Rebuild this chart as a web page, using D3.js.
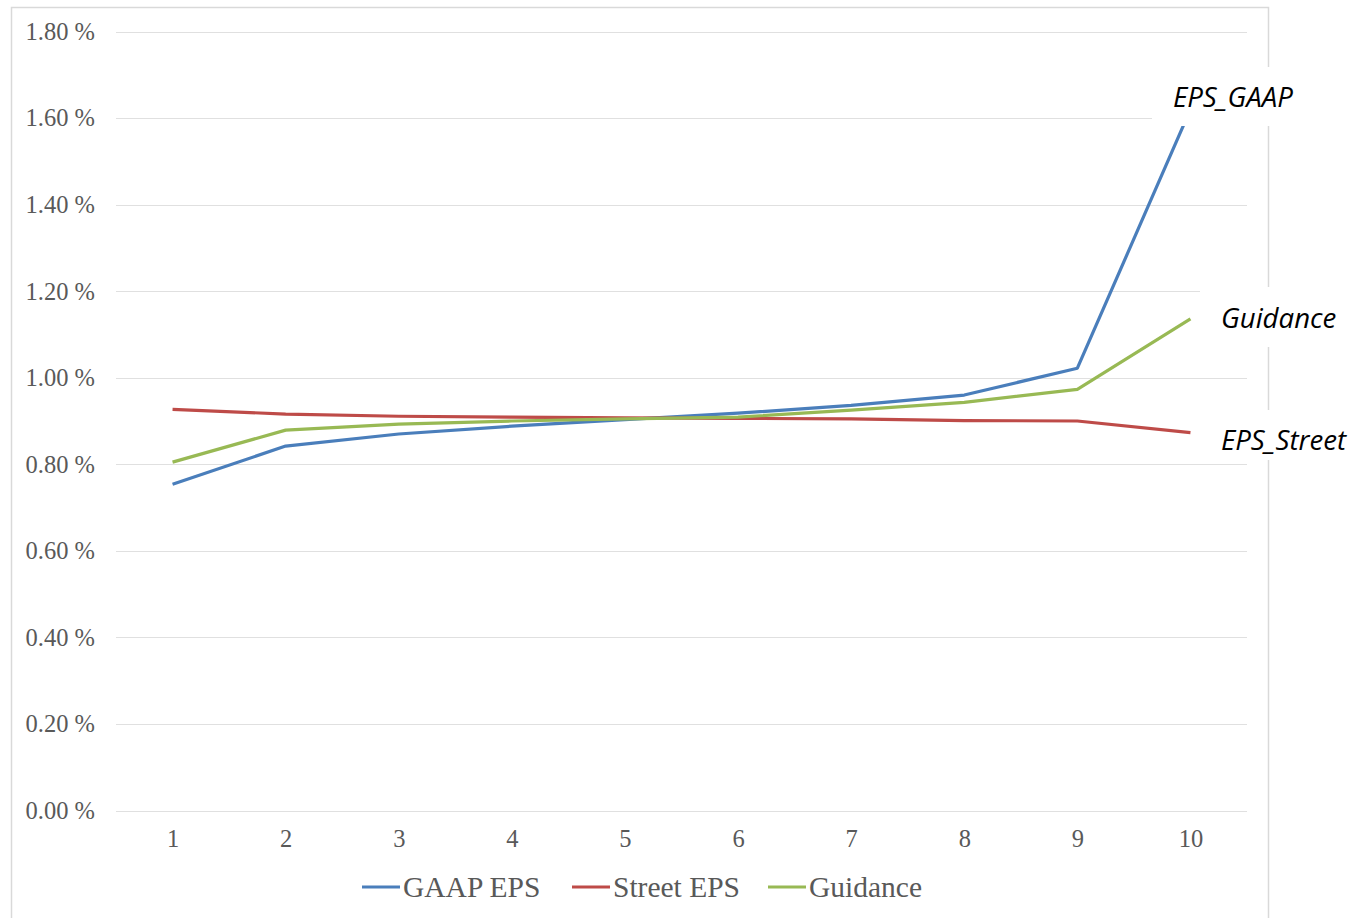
<!DOCTYPE html>
<html>
<head>
<meta charset="utf-8">
<script src="https://cdn.jsdelivr.net/npm/d3@7"></script>
<style>
  html, body { margin: 0; padding: 0; background: #ffffff; }
  svg { display: block; }
</style>
</head>
<body>
<svg id="chart" width="1359" height="918"></svg>
<script>
// ---- data ----
const categories = [1, 2, 3, 4, 5, 6, 7, 8, 9, 10];
const gaapEPS   = [0.754, 0.842, 0.870, 0.888, 0.903, 0.918, 0.936, 0.960, 1.022, 1.620];
const streetEPS = [0.927, 0.916, 0.911, 0.909, 0.907, 0.906, 0.905, 0.901, 0.900, 0.873];
const guidance  = [0.805, 0.879, 0.893, 0.900, 0.905, 0.909, 0.925, 0.943, 0.973, 1.136];
const yTicks = [0, 0.2, 0.4, 0.6, 0.8, 1.0, 1.2, 1.4, 1.6, 1.8];
const seriesNames = ["GAAP EPS", "Street EPS", "Guidance"];
const endLabels = ["EPS_GAAP", "EPS_Street", "Guidance"];

const colors = { "GAAP EPS": "#4a7ebb", "Street EPS": "#be4b48", "Guidance": "#98b954" };
const series = [
  { name: "GAAP EPS", values: gaapEPS },
  { name: "Street EPS", values: streetEPS },
  { name: "Guidance", values: guidance }
];

const svg = d3.select("#chart");
const plotL = 116, plotR = 1247, plotT = 31.5, plotB = 810.5;

// frame
svg.append("rect")
  .attr("x", 11.5).attr("y", 7.5)
  .attr("width", 1257).attr("height", 940)
  .attr("fill", "#ffffff").attr("stroke", "#d9d9d9").attr("stroke-width", 1.5);

const x = d3.scalePoint().domain(categories).range([plotL, plotR]).padding(0.5);
const y = d3.scaleLinear().domain([0, 1.8]).range([plotB, plotT]);

// gridlines
svg.append("g").selectAll("line").data(yTicks).join("line")
  .attr("x1", plotL).attr("x2", plotR)
  .attr("y1", d => Math.round(y(d)) + 0.5).attr("y2", d => Math.round(y(d)) + 0.5)
  .attr("stroke", "#e0e0e0").attr("stroke-width", 1);

// y axis
const yAxis = svg.append("g").attr("transform", `translate(${plotL},0)`)
  .call(d3.axisLeft(y).tickValues(yTicks).tickSize(0).tickPadding(21)
    .tickFormat(d => d.toFixed(2) + " %"));
yAxis.select(".domain").remove();
yAxis.selectAll("text")
  .attr("font-family", "'Liberation Serif', 'Times New Roman', serif")
  .attr("font-size", 24.5).attr("fill", "#595959");

// x axis
const xAxis = svg.append("g").attr("transform", `translate(0,${plotB})`)
  .call(d3.axisBottom(x).tickSize(0).tickPadding(19));
xAxis.select(".domain").remove();
xAxis.selectAll("text")
  .attr("font-family", "'Liberation Serif', 'Times New Roman', serif")
  .attr("font-size", 24.5).attr("fill", "#595959");

// lines
const line = d3.line().x((d, i) => x(categories[i])).y(d => y(d));
svg.append("g").selectAll("path").data(series).join("path")
  .attr("d", d => line(d.values))
  .attr("fill", "none")
  .attr("stroke", d => colors[d.name])
  .attr("stroke-width", 3.2)
  .attr("stroke-linejoin", "round");

// end labels with white boxes
const labelSpecs = [
  { text: endLabels[0], bx: 1152, by: 67, bw: 175, bh: 59, tx: 1173, ty: 97 },
  { text: endLabels[2], bx: 1200, by: 287, bw: 155, bh: 60, tx: 1221, ty: 318 },
  { text: endLabels[1], bx: 1212, by: 410, bw: 147, bh: 50, tx: 1221, ty: 440 }
];
const lg = svg.append("g");
lg.selectAll("rect").data(labelSpecs).join("rect")
  .attr("x", d => d.bx).attr("y", d => d.by)
  .attr("width", d => d.bw).attr("height", d => d.bh)
  .attr("fill", "#ffffff");
lg.selectAll("text").data(labelSpecs).join("text")
  .attr("x", d => d.tx).attr("y", d => d.ty)
  .attr("dy", "0.35em")
  .attr("font-family", "'Open Sans', 'Noto Sans', sans-serif")
  .attr("font-style", "italic")
  .attr("font-size", 27.6)
  .attr("fill", "#000000")
  .text(d => d.text);

// legend
const legendItems = [
  { name: seriesNames[0], lx: 362 },
  { name: seriesNames[1], lx: 572 },
  { name: seriesNames[2], lx: 768 }
];
const leg = svg.append("g");
const li = leg.selectAll("g").data(legendItems).join("g")
  .attr("transform", d => `translate(${d.lx},887)`);
li.append("line").attr("x1", 0).attr("x2", 38).attr("y1", 0).attr("y2", 0)
  .attr("stroke", d => colors[d.name]).attr("stroke-width", 3.2);
li.append("text").attr("x", 41).attr("y", 0).attr("dy", "0.35em")
  .attr("font-family", "'Liberation Serif', 'Times New Roman', serif")
  .attr("font-size", 29.5).attr("fill", "#595959")
  .text(d => d.name);
</script>
</body>
</html>
